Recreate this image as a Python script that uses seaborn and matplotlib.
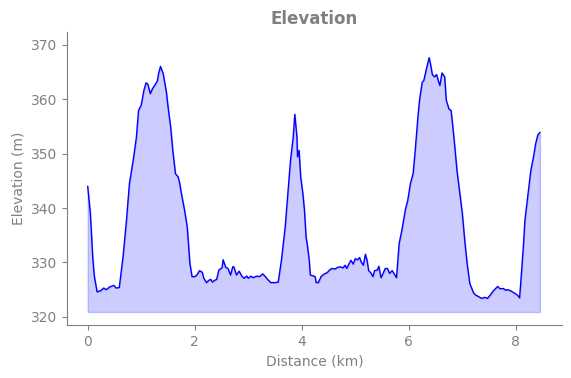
import numpy as np
import pandas as pd
import matplotlib
matplotlib.use("Agg")
import matplotlib.pyplot as plt
import seaborn as sns

# Distance (km) and elevation (m)
distance_km = [
    0.0, 0.05, 0.094, 0.125, 0.176, 0.24, 0.30, 0.345, 0.41, 0.49, 0.53, 0.59,
    0.66, 0.72, 0.78, 0.86, 0.91, 0.95, 1.0, 1.05, 1.09, 1.125, 1.17, 1.21,
    1.25, 1.30, 1.325, 1.36, 1.41, 1.47, 1.51, 1.55, 1.59, 1.64, 1.69, 1.72,
    1.75, 1.81, 1.86, 1.91, 1.95, 2.0, 2.04, 2.09, 2.14, 2.17, 2.22, 2.26,
    2.30, 2.33, 2.37, 2.41, 2.45, 2.51, 2.53, 2.58, 2.62, 2.67, 2.71, 2.73,
    2.78, 2.83, 2.88, 2.92, 2.97, 3.0, 3.05, 3.09, 3.16, 3.21, 3.27, 3.31,
    3.37, 3.42, 3.50, 3.56, 3.62, 3.69, 3.75, 3.79, 3.84, 3.87, 3.91, 3.92,
    3.95, 3.98, 4.02, 4.05, 4.08, 4.10, 4.14, 4.16, 4.22, 4.25, 4.27, 4.31,
    4.36, 4.42, 4.47, 4.52, 4.56, 4.62, 4.67, 4.72, 4.77, 4.81, 4.84, 4.89,
    4.92, 4.96, 5.0, 5.04, 5.08, 5.11, 5.15, 5.19, 5.22, 5.25, 5.29, 5.33,
    5.36, 5.41, 5.44, 5.48, 5.52, 5.56, 5.60, 5.64, 5.69, 5.72, 5.77, 5.82,
    5.87, 5.94, 5.98, 6.03, 6.08, 6.12, 6.17, 6.20, 6.25, 6.28, 6.33, 6.38,
    6.41, 6.44, 6.48, 6.52, 6.55, 6.58, 6.62, 6.67, 6.70, 6.75, 6.79, 6.82,
    6.86, 6.90, 6.95, 7.0, 7.05, 7.09, 7.14, 7.17, 7.21, 7.25, 7.29, 7.36,
    7.42, 7.47, 7.52, 7.58, 7.66, 7.70, 7.77, 7.81, 7.85, 7.90, 7.97, 8.03,
    8.07, 8.10, 8.14, 8.17, 8.23, 8.28, 8.33, 8.37, 8.41, 8.45,
]
elevation_m = [
    344.0, 339.0, 331.0, 327.4, 324.6, 324.8, 325.3, 325.0, 325.5, 325.8, 325.3, 325.4,
    331.0, 337.2, 344.5, 349.4, 353.0, 357.9, 358.9, 361.6, 363.0, 362.7, 361.0, 361.9,
    362.5, 363.3, 364.7, 366.0, 364.7, 361.3, 357.9, 354.9, 350.6, 346.3, 345.7, 344.5,
    342.7, 339.6, 336.5, 329.8, 327.4, 327.4, 327.7, 328.5, 328.2, 327.1, 326.3, 326.7,
    326.9, 326.4, 326.7, 326.9, 328.6, 329.0, 330.5, 329.1, 328.9, 327.7, 329.2, 329.2,
    327.7, 328.4, 327.5, 327.1, 327.5, 327.1, 327.5, 327.2, 327.5, 327.4, 327.9, 327.5,
    326.8, 326.3, 326.3, 326.4, 330.4, 336.5, 343.9, 348.8, 353.0, 357.2, 353.0, 349.4,
    350.6, 345.7, 342.7, 339.6, 334.7, 333.5, 330.4, 327.7, 327.5, 327.4, 326.3, 326.3,
    327.4, 327.9, 328.1, 328.6, 328.9, 328.8, 329.1, 329.2, 329.0, 329.5, 328.9, 329.9,
    330.4, 329.7, 330.7, 330.5, 330.9, 330.1, 329.5, 331.5, 330.4, 328.5, 328.1, 327.4,
    328.5, 328.6, 329.3, 327.2, 328.0, 328.9, 328.9, 328.0, 328.5, 328.0, 327.2, 333.5,
    335.9, 339.9, 341.4, 344.5, 346.3, 350.6, 356.7, 359.8, 363.1, 363.4, 365.6, 367.6,
    366.2, 364.5, 364.1, 364.5, 363.4, 362.5, 364.8, 364.1, 359.8, 358.2, 357.9, 355.2,
    351.2, 346.9, 343.0, 339.0, 333.5, 329.8, 326.1, 325.4, 324.4, 324.0, 323.8, 323.4,
    323.6, 323.4, 324.0, 324.8, 325.6, 325.2, 325.2, 324.9, 325.0, 324.8, 324.4, 324.0,
    323.5, 327.4, 332.9, 337.8, 342.7, 346.9, 349.4, 351.8, 353.4, 353.9,
]
fill_base = 320.9


def plot_elevation():
    df = pd.DataFrame({"distance": distance_km, "elevation": elevation_m})

    sns.set_style("ticks")
    plt.rcParams["font.family"] = ["DejaVu Sans"]
    grey = "#808080"

    fig, ax = plt.subplots(figsize=(5.71, 3.78), dpi=100)
    fig.subplots_adjust(left=0.117, right=0.984, top=0.915, bottom=0.14)

    # Fill under the profile, then the profile line
    ax.fill_between(df["distance"], df["elevation"], fill_base, color="blue", alpha=0.2)
    sns.lineplot(data=df, x="distance", y="elevation", ax=ax, color="blue", linewidth=1)

    ax.set_xlim(-0.39, 8.86)
    ax.set_ylim(318.5, 372.3)
    ax.set_yticks([320, 330, 340, 350, 360, 370])
    ax.set_xticks([0, 2, 4, 6, 8])

    ax.set_title("Elevation", fontsize=12, fontweight="bold", color=grey)
    ax.set_xlabel("Distance (km)", fontsize=10, color=grey)
    ax.set_ylabel("Elevation (m)", fontsize=10, color=grey)
    ax.tick_params(colors=grey, labelsize=10)
    sns.despine(ax=ax)
    for side in ["left", "bottom"]:
        ax.spines[side].set_color(grey)

    plt.savefig("out.png", dpi=100)


if __name__ == "__main__":
    plot_elevation()
